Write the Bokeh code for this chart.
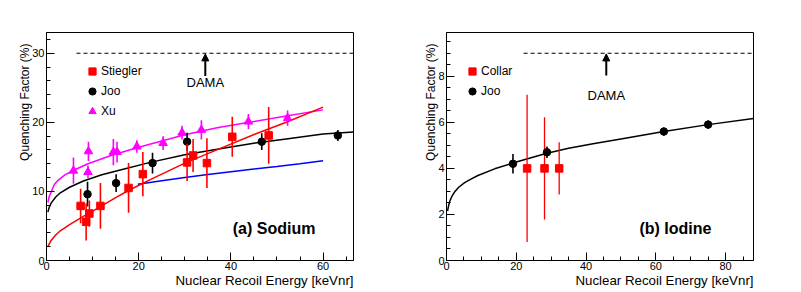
import numpy as np
from bokeh.plotting import figure
from bokeh.models import (Range1d, SingleIntervalTicker, Label, Arrow, NormalHead,
                          Legend, LegendItem, ColumnDataSource, Title, Spacer)
from bokeh.layouts import row
from bokeh.embed import file_html
from bokeh.resources import INLINE

FONT = "Liberation Sans"

# ---------------- (a) Sodium ----------------
stiegler_x = [7.4, 8.6, 9.3, 11.7, 17.8, 20.9, 30.5, 31.8, 34.8, 40.3, 48.2]
stiegler_y = [7.9, 5.6, 6.8, 7.9, 10.5, 12.5, 14.2, 15.2, 14.1, 17.9, 18.1]
stiegler_err = [2.5, 2.7, 1.9, 3.3, 3.6, 3.2, 2.7, 2.4, 3.6, 2.9, 4.1]

joo_na_x = [8.9, 15.1, 23.0, 30.5, 46.7, 63.2]
joo_na_y = [9.6, 11.2, 14.1, 17.2, 17.2, 18.1]
joo_na_err = [1.8, 1.3, 1.5, 1.3, 1.2, 0.8]

xu_x = [5.85, 9.0, 9.1, 14.5, 15.3, 19.6, 25.3, 29.4, 33.6, 43.8, 52.3]
xu_y = [13.0, 12.8, 15.8, 15.7, 15.7, 16.5, 17.0, 18.5, 18.9, 20.1, 20.6]
xu_err = [1.9, 0.9, 1.4, 1.9, 1.5, 0.9, 1.0, 1.0, 1.4, 1.1, 1.1]

# fit curves
na_xu_fit_x = [0.3, 0.6, 1, 1.7, 2.5, 4, 6, 9, 14, 20, 25, 30, 37, 44, 52, 60]
na_xu_fit_y = [8.4, 9.3, 9.9, 11.0, 11.6, 12.4, 13.1, 14.0, 15.2, 16.4, 17.3, 18.2, 19.2, 20.0, 20.9, 21.8]

na_joo_fit_x = [0.3, 0.6, 1, 2, 3, 5, 8, 12, 16, 22.5, 30, 38, 45.3, 52, 60, 66.6]
na_joo_fit_y = [7.0, 7.7, 8.3, 9.2, 9.8, 10.6, 11.5, 12.4, 13.1, 14.2, 15.3, 16.2, 17.0, 17.6, 18.3, 18.6]

na_st_fit_x = [0.3, 1, 2, 3, 5, 8, 11.7, 15, 18, 22.5, 30, 38, 45.3, 52, 60]
na_st_fit_y = [2.0, 2.9, 3.7, 4.3, 5.2, 6.4, 7.8, 9.1, 10.2, 11.7, 14.1, 16.3, 18.3, 20.0, 22.2]

na_blue_x = [19.8, 25, 30, 35, 40, 45, 50, 55, 60]
na_blue_y = [11.05, 11.55, 12.0, 12.45, 12.85, 13.25, 13.6, 14.0, 14.45]

na_dama_x = [6.5, 66.6]
na_dama_level = 30

# ---------------- (b) Iodine ----------------
collar_x = [23.1, 28.1, 32.3]
collar_y = [4.0, 4.0, 4.0]
collar_err = [3.2, 2.22, 1.13]

joo_i_x = [19.05, 28.8, 62.3, 75.0]
joo_i_y = [4.2, 4.7, 5.6, 5.9]
joo_i_err = [0.42, 0.25, 0.18, 0.18]

i_fit_x = [0.3, 0.6, 1.0, 1.5, 2.3, 3.5, 5.2, 7, 9, 13.8, 19, 24, 28.5, 35, 42, 50, 62.3, 75, 88]
i_fit_y = [2.15, 2.38, 2.6, 2.77, 2.97, 3.18, 3.38, 3.53, 3.69, 3.98, 4.23, 4.45, 4.65, 4.87, 5.07, 5.28, 5.6, 5.9, 6.17]

i_dama_x = [22.1, 88]
i_dama_level = 9

x_title = "Nuclear Recoil Energy [keVnr]"
y_title = "Quenching Factor (%)"

FIG_H = 292


def set_standoff(t, v):
    try:
        t.standoff = v
    except Exception:
        t.standoff = 0


def make_fig(width, xr, yr, bl, br, yint, ynminor):
    p = figure(width=width, height=FIG_H, x_range=Range1d(*xr), y_range=Range1d(*yr),
               output_backend="svg", toolbar_location=None,
               min_border_left=bl, min_border_right=br,
               min_border_top=32, min_border_bottom=32)
    p.grid.visible = False
    p.outline_line_color = "black"
    p.outline_line_width = 1
    p.outline_line_alpha = 1
    p.xaxis.ticker = SingleIntervalTicker(interval=20, num_minor_ticks=4)
    p.yaxis.ticker = SingleIntervalTicker(interval=yint, num_minor_ticks=ynminor)
    for ax in (p.xaxis[0], p.yaxis[0]):
        ax.major_tick_in = 8
        ax.major_tick_out = 0
        ax.minor_tick_in = 4
        ax.minor_tick_out = 0
        ax.axis_line_color = "black"
        ax.major_tick_line_color = "black"
        ax.minor_tick_line_color = "black"
        ax.major_label_text_font = FONT
        ax.major_label_text_font_size = "11px"
        ax.major_label_text_color = "black"
        ax.major_label_standoff = 2
    p.xaxis[0].major_label_standoff = 1
    tb = Title(text=x_title, align="right", text_font=FONT, text_font_size="13.3px",
               text_font_style="normal", text_color="black")
    set_standoff(tb, -4)
    p.add_layout(tb, "below")
    tl = Title(text=y_title, align="right", text_font=FONT, text_font_size="12px",
               text_font_style="normal", text_color="black", offset=11)
    set_standoff(tl, -4)
    p.add_layout(tl, "left")
    return p


def errbars(p, x, y, e, color, w=1.6):
    x = np.array(x, float); y = np.array(y, float); e = np.array(e, float)
    src = ColumnDataSource(dict(x=x, lo=y - e, hi=y + e))
    p.segment(x0="x", y0="lo", x1="x", y1="hi", source=src, line_color=color, line_width=w)


def text_label(p, x, y, t, size, **kw):
    lab = Label(x=x, y=y, text=t, text_font=FONT, text_font_size=size,
                text_color="black", **kw)
    p.add_layout(lab)


# ---------- left figure ----------
p1 = make_fig(392, (0, 66.6), (0, 33), 38, 47, 10, 5)

p1.line(na_blue_x, na_blue_y, line_color="#0000ff", line_width=1.5)
p1.line(na_joo_fit_x, na_joo_fit_y, line_color="black", line_width=1.5)
p1.line(na_xu_fit_x, na_xu_fit_y, line_color="#ff00ff", line_width=1.5)
p1.line(na_st_fit_x, na_st_fit_y, line_color="#ff0000", line_width=1.5)

errbars(p1, xu_x, xu_y, xu_err, "#ff00ff")
r_xu = p1.scatter(xu_x, xu_y, marker="triangle", size=8.5, fill_color="#ff00ff", line_color="#ff00ff")
errbars(p1, joo_na_x, joo_na_y, joo_na_err, "black")
r_joo1 = p1.scatter(joo_na_x, joo_na_y, marker="circle", size=7.5, fill_color="black", line_color="black")
errbars(p1, stiegler_x, stiegler_y, stiegler_err, "#ff0000")
r_st = p1.scatter(stiegler_x, stiegler_y, marker="square", size=7.5, fill_color="#ff0000", line_color="#ff0000")

p1.line(na_dama_x, [na_dama_level] * 2, line_color="black", line_width=1.2, line_dash="4 3")
p1.add_layout(Arrow(end=NormalHead(size=7, fill_color="black", line_color="black"),
                    x_start=34.45, y_start=26.7, x_end=34.45, y_end=29.9,
                    line_color="black", line_width=2))
text_label(p1, 34.45, 25.8, "DAMA", "13px", text_align="center", text_baseline="middle")
text_label(p1, 40.4, 4.67, "(a) Sodium", "16px", text_baseline="middle", text_font_style="bold")

leg1 = Legend(items=[LegendItem(label="Stiegler", renderers=[r_st]),
                     LegendItem(label="Joo", renderers=[r_joo1]),
                     LegendItem(label="Xu", renderers=[r_xu])],
              location=(37, 139), orientation="vertical")

# ---------- right figure ----------
p2 = make_fig(393, (0, 88), (0, 9.9), 38, 48, 2, 4)

p2.line(i_fit_x, i_fit_y, line_color="black", line_width=1.5)
errbars(p2, collar_x, collar_y, collar_err, "#ff0000", w=1.3)
r_col = p2.scatter(collar_x, collar_y, marker="square", size=7.5, fill_color="#ff0000", line_color="#ff0000")
errbars(p2, joo_i_x, joo_i_y, joo_i_err, "black")
r_joo2 = p2.scatter(joo_i_x, joo_i_y, marker="circle", size=7.5, fill_color="black", line_color="black")

p2.line(i_dama_x, [i_dama_level] * 2, line_color="black", line_width=1.2, line_dash="4 3")
p2.add_layout(Arrow(end=NormalHead(size=7, fill_color="black", line_color="black"),
                    x_start=45.8, y_start=8.03, x_end=45.8, y_end=8.97,
                    line_color="black", line_width=2))
text_label(p2, 45.8, 7.16, "DAMA", "13px", text_align="center", text_baseline="middle")
text_label(p2, 55.3, 1.40, "(b) Iodine", "16px", text_baseline="middle", text_font_style="bold")

leg2 = Legend(items=[LegendItem(label="Collar", renderers=[r_col]),
                     LegendItem(label="Joo", renderers=[r_joo2])],
              location=(17, 159), orientation="vertical")

for p, lg in ((p1, leg1), (p2, leg2)):
    lg.border_line_color = None
    lg.background_fill_alpha = 0
    lg.padding = 0
    lg.margin = 0
    lg.spacing = 0
    lg.glyph_width = 18
    lg.glyph_height = 20
    lg.label_height = 20
    lg.label_standoff = 0
    lg.label_text_font = FONT
    lg.label_text_font_size = "12px"
    lg.label_text_color = "black"
    p.add_layout(lg, "center")

layout = row(Spacer(width=8, height=FIG_H), p1, Spacer(width=8, height=FIG_H), p2)
open("out.html", "w").write(file_html(layout, INLINE))
